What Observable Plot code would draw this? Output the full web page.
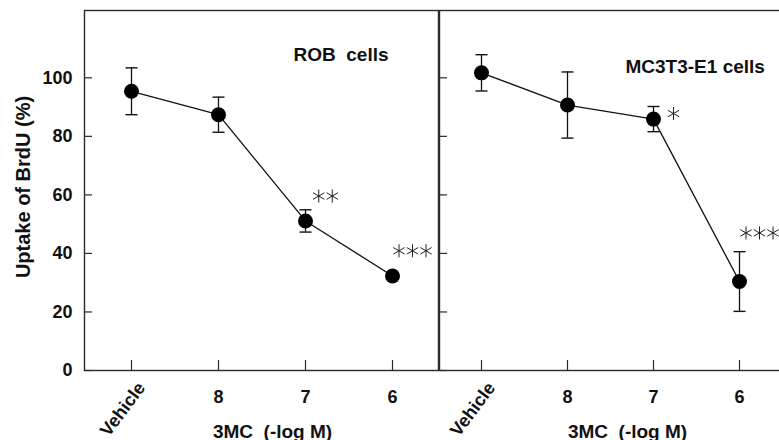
<!DOCTYPE html>
<html><head><meta charset="utf-8">
<script src="https://cdn.jsdelivr.net/npm/d3@7"></script>
<script src="https://cdn.jsdelivr.net/npm/@observablehq/plot@0.6"></script>
<style>
body{margin:0;background:#fff;}
#wrap{display:flex;width:779px;height:440px;overflow:hidden;background:#fff;}
#wrap svg{flex:none;display:block;}
</style></head><body><div id="wrap"></div>
<script>
// ---- data ----
const categories = ["Vehicle", "8", "7", "6"];
const panelTitles = ["ROB\u00a0 cells", "MC3T3-E1 cells"];
const robMean = [95.4, 87.4, 51.1, 32.3];
const robErr  = [8.0, 6.0, 3.8, 0.8];
const mcMean  = [101.7, 90.7, 85.9, 30.4];
const mcErr   = [6.2, 11.3, 4.3, 10.2];
const robStars = [0, 0, 2, 3];
const mcStars  = [0, 0, 1, 3];
const robStarY = [null, null, 59.6, 40.9];
const mcStarY  = [null, null, 87.8, 47.0];
const yTicks = [0, 20, 40, 60, 80, 100];
const xTitle = "3MC\u00a0 (-log M)";
const yTitle = "Uptake of BrdU (%)";

const FONT = "'Liberation Sans', Arial, Helvetica, sans-serif";
const INK = "#111";
// horizontal cap symbol for error bars (half-width = r)
const capSymbol = {draw(ctx, size) { const h = Math.sqrt(size / Math.PI); ctx.moveTo(-h, 0); ctx.lineTo(h, 0); }};

function panel({mean, err, stars, starY, title, first, width, marginLeft, marginRight, padding, titleDx, titleDy}) {
  const data = categories.map((c, i) => ({cat: c, mean: mean[i], lo: mean[i] - err[i], hi: mean[i] + err[i]}));
  const starRecs = [];
  categories.forEach((c, i) => {
    const n = stars[i];
    for (let k = 0; k < n; k++) starRecs.push({cat: c, y: starY[i], off: 13.5 * (k - (n - 1) / 2)});
  });
  const offs = [...new Set(starRecs.map(s => s.off))];
  const marks = [
    Plot.frame({stroke: "#2a2a2a", strokeWidth: 1.4}),
    Plot.axisY(yTicks, {text: null, tickSize: 8, dx: 8, label: null, stroke: "#2a2a2a", strokeWidth: 1.2}),
    first ? Plot.axisY(yTicks, {tickSize: 0, tickPadding: 12, label: null, fontSize: 18, fontWeight: "bold", fill: INK}) : null,
    Plot.axisX(categories, {text: null, tickSize: 10, dy: -10, label: null, stroke: "#2a2a2a", strokeWidth: 1.2}),
    Plot.axisX(categories.slice(1), {tickSize: 0, tickPadding: 20, label: null, fontSize: 18, fontWeight: "bold", fill: INK}),
    Plot.text([categories[0]], {x: d => d, frameAnchor: "bottom", rotate: -53, textAnchor: "end", lineAnchor: "middle", dx: 10, dy: 14, fontSize: 18, fontWeight: "bold", fill: INK}),
    Plot.ruleX(data, {x: "cat", y1: "lo", y2: "hi", stroke: INK, strokeWidth: 1.3}),
    Plot.dot(data, {x: "cat", y: "hi", symbol: capSymbol, r: 6, stroke: INK, strokeWidth: 1.4}),
    Plot.dot(data, {x: "cat", y: "lo", symbol: capSymbol, r: 6, stroke: INK, strokeWidth: 1.4}),
    Plot.line(data, {x: "cat", y: "mean", stroke: INK, strokeWidth: 1.3}),
    Plot.dot(data, {x: "cat", y: "mean", r: 7.5, fill: "#000", stroke: null}),
    ...offs.map(o => Plot.dot(starRecs.filter(s => s.off === o), {x: "cat", y: "y", symbol: "asterisk", r: 6.2, stroke: "#222", strokeWidth: 1, dx: 20 + o})),
    Plot.text([title], {frameAnchor: "top-left", dx: titleDx, dy: titleDy, textAnchor: "start", lineAnchor: "bottom", fontSize: 19, fontWeight: "bold", fill: INK}),
    Plot.text([xTitle], {frameAnchor: "bottom-left", dx: 188, dy: 67, textAnchor: "middle", lineAnchor: "bottom", fontSize: 19, fontWeight: "bold", fill: INK}),
    first ? Plot.text([yTitle], {frameAnchor: "left", dx: -61, dy: -3.5, rotate: -90, textAnchor: "middle", lineAnchor: "middle", fontSize: 20, fontWeight: "bold", fill: INK}) : null
  ].filter(Boolean);
  return Plot.plot({
    width, height: 440,
    marginLeft, marginRight, marginTop: 10, marginBottom: 70,
    style: {fontFamily: FONT, background: "#fff", color: INK, overflow: "hidden"},
    x: {type: "point", domain: categories, padding},
    y: {domain: [0, 123]},
    marks
  });
}

const wrap = document.getElementById("wrap");
wrap.append(panel({mean: robMean, err: robErr, stars: robStars, starY: robStarY, title: panelTitles[0], first: true,
  width: 439, marginLeft: 84, marginRight: 1, padding: 0.53, titleDx: 209, titleDy: 50.7}));
wrap.append(panel({mean: mcMean, err: mcErr, stars: mcStars, starY: mcStarY, title: panelTitles[1], first: false,
  width: 341, marginLeft: 0, marginRight: 0, padding: 0.46, titleDx: 186, titleDy: 62}));
</script>
</body></html>
